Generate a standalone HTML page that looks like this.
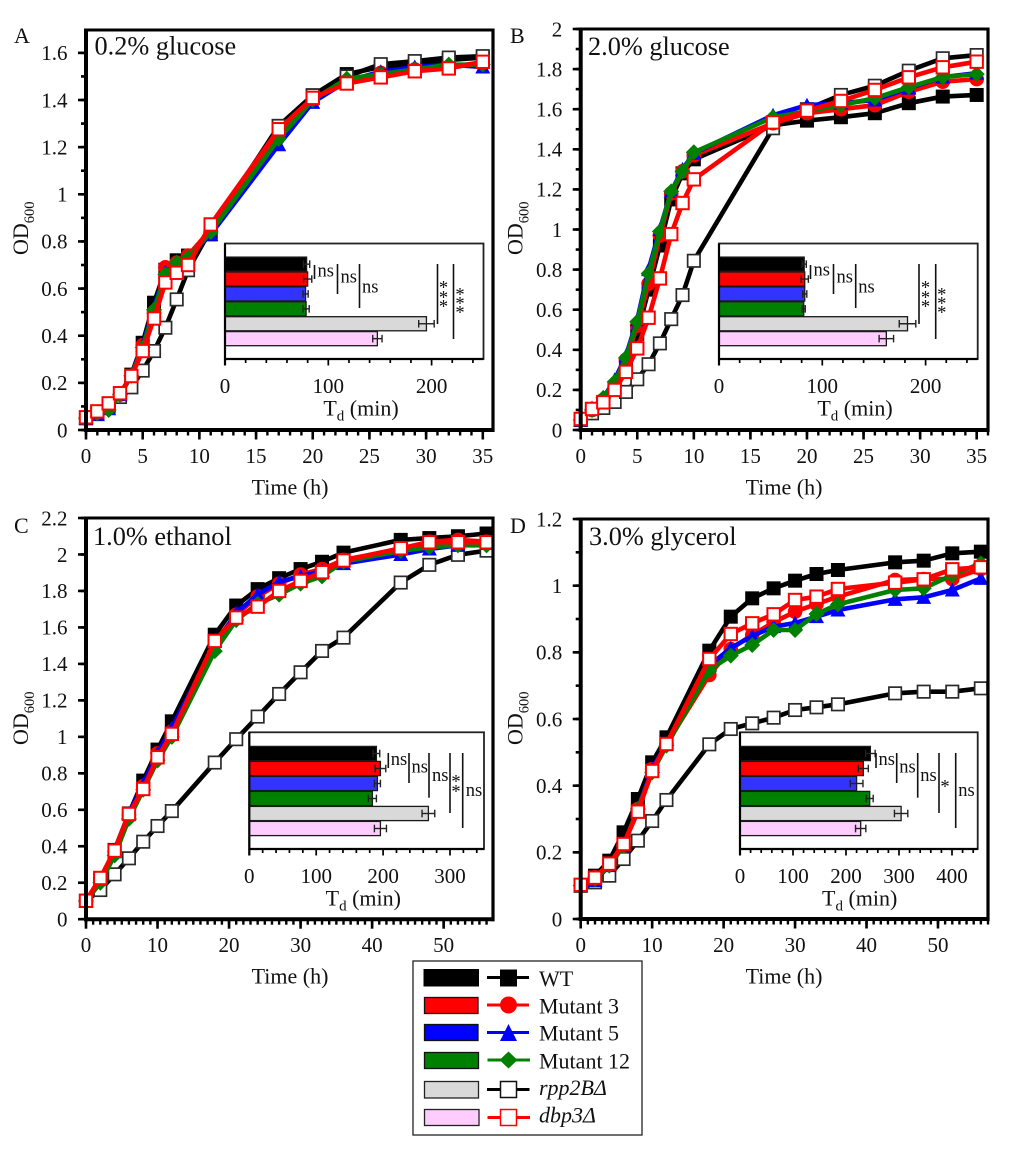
<!DOCTYPE html>
<html lang="en">
<head>
<meta charset="utf-8">
<title>Growth curves and doubling times</title>
<style>
html,body{margin:0;padding:0;background:#fff;}
svg{display:block;}
text{font-family:"Liberation Serif","DejaVu Serif",serif;fill:#111;}
</style>
</head>
<body>
<svg id="figure" xmlns="http://www.w3.org/2000/svg" width="1020" height="1165" viewBox="0 0 1020 1165">
<rect x="0" y="0" width="1020" height="1165" fill="#fff"/>
<g id="panels"></g>
<g>
  <rect x="413" y="961" width="229" height="174" fill="#fff" stroke="#222" stroke-width="1.3"/>
  <g>
    <rect x="424" y="969.5" width="54.5" height="16.5" fill="#000" stroke="#000" stroke-width="1"/>
    <line x1="487" y1="977.5" x2="529" y2="977.5" stroke="#000" stroke-width="3"/>
    <rect x="500" y="969.5" width="17" height="17" fill="#000"/>
    <text x="539" y="986" font-size="22">WT</text>
  </g>
  <g>
    <rect x="424.5" y="997.5" width="53.5" height="16" fill="#f00" stroke="#111" stroke-width="1.3"/>
    <line x1="487" y1="1005" x2="529" y2="1005" stroke="#f00" stroke-width="3"/>
    <circle cx="508.5" cy="1005" r="8.5" fill="#f00"/>
    <text x="539" y="1013.5" font-size="22">Mutant 3</text>
  </g>
  <g>
    <rect x="424.5" y="1024.5" width="53.5" height="16" fill="#00f" stroke="#111" stroke-width="1.3"/>
    <line x1="487" y1="1032.5" x2="529" y2="1032.5" stroke="#00f" stroke-width="3"/>
    <polygon points="508.5,1024 517,1041 500,1041" fill="#00f"/>
    <text x="539" y="1040.7" font-size="22">Mutant 5</text>
  </g>
  <g>
    <rect x="424.5" y="1052.5" width="54" height="16" fill="#008000" stroke="#111" stroke-width="1.3"/>
    <line x1="487.5" y1="1060" x2="530" y2="1060" stroke="#008000" stroke-width="3"/>
    <polygon points="508.5,1051.5 517.5,1060 508.5,1068.5 499.5,1060" fill="#008000"/>
    <text x="539" y="1068.3" font-size="22">Mutant 12</text>
  </g>
  <g>
    <rect x="424.5" y="1081.5" width="54" height="16.5" fill="#d9d9d9" stroke="#222" stroke-width="1.3"/>
    <line x1="487" y1="1089.5" x2="529.5" y2="1089.5" stroke="#000" stroke-width="3"/>
    <rect x="500.5" y="1081.5" width="16" height="16" fill="#fff" stroke="#111" stroke-width="1.5"/>
    <text x="539" y="1095" font-size="22" font-style="italic">rpp2BΔ</text>
  </g>
  <g>
    <rect x="424.5" y="1109.5" width="54.5" height="16" fill="#ffccff" stroke="#222" stroke-width="1.3"/>
    <line x1="487.5" y1="1117.5" x2="530" y2="1117.5" stroke="#f00" stroke-width="3"/>
    <rect x="500.5" y="1109.5" width="16" height="16" fill="#fff" stroke="#f00" stroke-width="1.5"/>
    <text x="539" y="1122.3" font-size="22" font-style="italic">dbp3Δ</text>
  </g>
</g>
</svg>
<script>
/* ---------- Panel A: 0.2% glucose ---------- */
var timesA = [0,1,2,3,4,5,6,7,8,9,11,17,20,23,26,29,32,35];
var wtA     = [.05,.07,.105,.15,.235,.37,.54,.68,.72,.74,.83,1.29,1.42,1.51,1.54,1.55,1.57,1.58];
var m3A     = [.05,.07,.10,.15,.23,.36,.50,.69,.71,.74,.85,1.26,1.395,1.48,1.515,1.53,1.54,1.56];
var m5A     = [.05,.065,.09,.15,.23,.36,.52,.67,.70,.73,.83,1.21,1.39,1.48,1.52,1.54,1.55,1.54];
var m12A    = [.05,.07,.085,.15,.23,.35,.51,.66,.71,.73,.84,1.235,1.40,1.49,1.51,1.53,1.55,1.55];
var rppA    = [.05,.07,.10,.14,.181,.252,.335,.434,.554,.678,.85,1.29,1.42,1.50,1.552,1.565,1.58,1.586];
var dbpA    = [.054,.079,.113,.156,.229,.335,.473,.626,.667,.70,.872,1.276,1.409,1.47,1.496,1.522,1.534,1.562];
var yTicksA = [0,0.2,0.4,0.6,0.8,1,1.2,1.4,1.6];
var xTicksA = [0,5,10,15,20,25,30,35];
var tdA     = [79,80,78,78.5,195,147.5];
var tdErrA  = [3,4,2.5,3,7.5,4.5];
var insetTicksA = [0,100,200];

/* ---------- Panel B: 2.0% glucose ---------- */
var timesB = [0,1,2,3,4,5,6,7,8,9,10,17,20,23,26,29,32,35];
var wtB     = [.05,.09,.14,.21,.33,.48,.70,.92,1.15,1.28,1.35,1.52,1.543,1.56,1.58,1.63,1.663,1.671];
var m3B     = [.05,.10,.15,.22,.35,.52,.73,.97,1.18,1.29,1.37,1.53,1.58,1.60,1.62,1.687,1.737,1.75];
var m5B     = [.05,.11,.16,.25,.37,.55,.80,1.0,1.19,1.30,1.38,1.57,1.62,1.63,1.646,1.705,1.76,1.78];
var m12B    = [.05,.10,.16,.24,.36,.54,.78,.99,1.19,1.29,1.385,1.56,1.59,1.62,1.655,1.71,1.76,1.775];
var rppB    = [.05,.083,.11,.14,.19,.253,.328,.432,.553,.673,.844,1.505,1.60,1.671,1.717,1.792,1.854,1.87];
var dbpB    = [.055,.105,.138,.20,.29,.407,.56,.756,.977,1.132,1.25,1.534,1.593,1.641,1.696,1.759,1.809,1.837];
var yTicksB = [0,0.2,0.4,0.6,0.8,1,1.2,1.4,1.6,1.8,2];
var xTicksB = [0,5,10,15,20,25,30,35];
var tdB     = [82.5,83,83,82,182.5,162];
var tdErrB  = [2,3.5,2,1.5,8,7];
var insetTicksB = [0,100,200];

/* ---------- Panel C: 1.0% ethanol ---------- */
var timesC = [0,2,4,6,8,10,12,18,21,24,27,30,33,36,44,48,52,56];
var wtC     = [.10,.22,.38,.58,.76,.93,1.085,1.56,1.72,1.81,1.87,1.92,1.96,2.01,2.08,2.09,2.10,2.115];
var m3C     = [.10,.22,.37,.57,.73,.91,1.03,1.52,1.67,1.77,1.84,1.89,1.92,1.97,2.03,2.07,2.08,2.07];
var m5C     = [.10,.22,.37,.58,.74,.91,1.05,1.50,1.68,1.78,1.85,1.88,1.91,1.95,2.0,2.03,2.05,2.06];
var m12C    = [.10,.20,.35,.55,.71,.87,1.0,1.47,1.64,1.73,1.78,1.84,1.88,1.96,2.02,2.04,2.05,2.05];
var rppC    = [.10,.16,.246,.334,.425,.511,.593,.859,.987,1.111,1.235,1.354,1.471,1.544,1.846,1.943,1.998,2.021];
var dbpC    = [.101,.226,.376,.577,.714,.888,1.016,1.526,1.654,1.714,1.80,1.855,1.903,1.967,2.034,2.067,2.067,2.067];
var yTicksC = [0,0.2,0.4,0.6,0.8,1,1.2,1.4,1.6,1.8,2,2.2];
var xTicksC = [0,10,20,30,40,50];
var tdC     = [190,196,191.5,184,267.7,196];
var tdErrC  = [5,8,4.5,6,9.5,9];
var insetTicksC = [0,100,200,300];

/* ---------- Panel D: 3.0% glycerol ---------- */
var timesD = [0,2,4,6,8,10,12,18,21,24,27,30,33,36,44,48,52,56];
var wtD     = [.10,.13,.175,.26,.36,.47,.545,.805,.907,.962,.992,1.015,1.035,1.047,1.07,1.075,1.097,1.102];
var m3D     = [.10,.125,.165,.22,.33,.45,.525,.732,.81,.852,.89,.922,.945,.967,1.017,1.02,1.02,1.05];
var m5D     = [.10,.115,.16,.22,.33,.45,.525,.76,.813,.849,.877,.888,.907,.927,.959,.965,.987,1.022];
var m12D    = [.10,.12,.16,.22,.33,.44,.52,.747,.79,.822,.867,.867,.915,.944,.987,.992,1.032,1.067];
var rppD    = [.10,.11,.13,.18,.235,.294,.357,.524,.57,.587,.604,.627,.635,.644,.677,.682,.682,.692];
var dbpD    = [.1025,.124,.166,.225,.322,.444,.525,.78,.855,.887,.914,.957,.967,.99,1.009,1.019,1.049,1.055];
var yTicksD = [0,0.2,0.4,0.6,0.8,1,1.2];
var xTicksD = [0,10,20,30,40,50];
var tdD     = [246,232.7,220,244.7,304,227.7];
var tdErrD  = [9,9.4,12,6.6,12.6,9.7];
var insetTicksD = [0,100,200,300,400];

var strainNames = ['wt','mutant-3','mutant-5','mutant-12','rpp2b','dbp3'];

var SVGNS = 'http://www.w3.org/2000/svg';

function mk(parent, tag, attrs, name, txt) {
  var el = document.createElementNS(SVGNS, tag);
  for (var k in attrs) { el.setAttribute(k, attrs[k]); }
  
  
  if (txt !== undefined) { el.textContent = txt; }
  parent.appendChild(el);
  return el;
}

function drawMarker(g, kind, cx, cy) {
  if (kind === 'wt') {
    mk(g, 'rect', {x: cx-7, y: cy-7, width: 14, height: 14, fill: '#000'}, 'point-wt');
  } else if (kind === 'mutant-3') {
    mk(g, 'circle', {cx: cx, cy: cy, r: 7.3, fill: '#f00'}, 'point-mutant-3');
  } else if (kind === 'mutant-5') {
    mk(g, 'polygon', {points: cx+','+(cy-7.5)+' '+(cx+7.5)+','+(cy+6.5)+' '+(cx-7.5)+','+(cy+6.5), fill: '#00f'}, 'point-mutant-5');
  } else if (kind === 'mutant-12') {
    mk(g, 'polygon', {points: cx+','+(cy-8)+' '+(cx+8)+','+cy+' '+cx+','+(cy+8)+' '+(cx-8)+','+cy, fill: '#008000'}, 'point-mutant-12');
  } else if (kind === 'rpp2b') {
    mk(g, 'rect', {x: cx-6.2, y: cy-6.2, width: 12.4, height: 12.4, fill: '#fff', stroke: '#2a2a2a', 'stroke-width': 1.7}, 'point-rpp2b');
  } else {
    mk(g, 'rect', {x: cx-6.2, y: cy-6.2, width: 12.4, height: 12.4, fill: '#fff', stroke: '#f00', 'stroke-width': 2}, 'point-dbp3');
  }
}

function drawPanel(p) {
  var root = document.getElementById('panels');
  var g = mk(root, 'g', {}, 'panel-' + p.id);
  var X = function (t) { return p.L + t * (p.R - p.L) / p.xMax; };
  var Y = function (v) { return p.B - v * (p.B - p.T) / p.yMax; };
  var i, j;

  mk(g, 'text', {x: p.letterX, y: p.letterY, 'font-size': 22}, 'panel-letter', p.letter);

  /* axis ticks */
  var axes = mk(g, 'g', {stroke: '#000'}, 'axis-ticks');
  for (i = 0; i * p.yMinor <= p.yMax + 1e-9; i++) {
    mk(axes, 'line', {x1: p.L-5, x2: p.L, y1: Y(i*p.yMinor), y2: Y(i*p.yMinor), 'stroke-width': 2.6}, 'y-minor-tick');
  }
  for (i = 0; i <= p.xMax; i++) {
    mk(axes, 'line', {x1: X(i), x2: X(i), y1: p.B, y2: p.B+5.5, 'stroke-width': 2.4}, 'x-minor-tick');
  }
  p.yTicks.forEach(function (v) {
    mk(axes, 'line', {x1: p.L-8, x2: p.L, y1: Y(v), y2: Y(v), 'stroke-width': 2.6}, 'y-major-tick');
    mk(g, 'text', {x: p.L-18.5, y: Y(v)+7.3, 'font-size': 21, 'text-anchor': 'end'}, 'y-tick-label', String(v));
  });
  p.xTicks.forEach(function (v) {
    mk(axes, 'line', {x1: X(v), x2: X(v), y1: p.B, y2: p.B+9.5, 'stroke-width': 2.6}, 'x-major-tick');
    mk(g, 'text', {x: X(v), y: p.B+33, 'font-size': 21, 'text-anchor': 'middle'}, 'x-tick-label', String(v));
  });

  /* axis titles */
  var yt = mk(g, 'text', {transform: 'translate(' + (p.L-58) + ',' + p.yTitleY + ') rotate(-90)', 'font-size': 22}, 'y-axis-title', 'OD');
  mk(yt, 'tspan', {dy: 6, 'font-size': 14.5}, 'y-axis-subscript', '600');
  mk(g, 'text', {x: p.xTitleX, y: p.B+64.5, 'font-size': 22, 'text-anchor': 'middle'}, 'x-axis-title', 'Time (h)');

  /* series */
  var order = [
    ['wt', p.wt, '#000'],
    ['rpp2b', p.rpp, '#000'],
    ['mutant-3', p.m3, '#f00'],
    ['mutant-5', p.m5, '#00f'],
    ['mutant-12', p.m12, '#008000'],
    ['dbp3', p.dbp, '#f00']
  ];
  order.forEach(function (s) {
    var sg = mk(g, 'g', {}, 'series-' + s[0]);
    var pts = s[1].map(function (v, idx) { return X(p.times[idx]) + ',' + Y(v); }).join(' ');
    mk(sg, 'polyline', {points: pts, fill: 'none', stroke: s[2], 'stroke-width': 4.6, 'stroke-linejoin': 'round'}, 'line-' + s[0]);
    s[1].forEach(function (v, idx) { drawMarker(sg, s[0], X(p.times[idx]), Y(v)); });
  });

  /* frame */
  mk(g, 'line', {x1: p.L, x2: p.L, y1: p.T-1.5, y2: p.B+2, stroke: '#000', 'stroke-width': 4}, 'y-axis-line');
  mk(g, 'line', {x1: p.L-2, x2: p.R+1.5, y1: p.B, y2: p.B, stroke: '#000', 'stroke-width': 4}, 'x-axis-line');
  mk(g, 'line', {x1: p.L-2, x2: p.R+1.5, y1: p.T, y2: p.T, stroke: '#000', 'stroke-width': 3}, 'frame-top');
  mk(g, 'line', {x1: p.R, x2: p.R, y1: p.T-1.5, y2: p.B+2, stroke: '#000', 'stroke-width': 3.2}, 'frame-right');
  mk(g, 'text', {x: p.titleX, y: p.titleY, 'font-size': 26.3}, 'panel-title', p.title);

  /* inset */
  var ins = mk(g, 'g', {}, 'doubling-time-inset');
  var IX = function (v) { return p.iL + v * p.iScale; };
  mk(ins, 'rect', {x: p.iL, y: p.iT, width: p.iR-p.iL, height: p.iB-p.iT, fill: '#fff', stroke: '#222', 'stroke-width': 1.8}, 'inset-frame');
  var fills = ['#000','#f00','#3333ff','#008000','#d9d9d9','#ffccff'];
  p.td.forEach(function (v, idx) {
    var top = p.barTop + idx * p.band;
    mk(ins, 'rect', {x: p.iL, y: top+0.4, width: IX(v)-p.iL, height: p.band-0.8, fill: fills[idx], stroke: '#1a1a1a', 'stroke-width': 1.3}, 'td-bar-' + strainNames[idx]);
  });
  p.td.forEach(function (v, idx) {
    var cy = p.barTop + idx * p.band + p.band/2;
    var e = p.tdErr[idx];
    mk(ins, 'line', {x1: IX(v-e), x2: IX(v+e), y1: cy, y2: cy, stroke: '#222', 'stroke-width': 1.4}, 'error-bar');
    mk(ins, 'line', {x1: IX(v-e), x2: IX(v-e), y1: cy-3.8, y2: cy+3.8, stroke: '#222', 'stroke-width': 1.4}, 'error-cap');
    mk(ins, 'line', {x1: IX(v+e), x2: IX(v+e), y1: cy-3.8, y2: cy+3.8, stroke: '#222', 'stroke-width': 1.4}, 'error-cap');
  });
  mk(ins, 'line', {x1: p.iL, x2: p.iL, y1: p.iT, y2: p.iB+6.5, stroke: '#000', 'stroke-width': 2.2}, 'inset-y-axis');
  mk(ins, 'line', {x1: p.iL, x2: p.iR, y1: p.iB, y2: p.iB, stroke: '#000', 'stroke-width': 2.2}, 'inset-x-axis');
  for (i = 0; IX(i*20) <= p.iR - 3; i++) {
    mk(ins, 'line', {x1: IX(i*20), x2: IX(i*20), y1: p.iB, y2: p.iB + (i % 5 === 0 ? 6.5 : 4), stroke: '#000', 'stroke-width': 1.7}, 'inset-tick');
  }
  p.iTicks.forEach(function (v) {
    mk(ins, 'text', {x: IX(v), y: p.iB+34, 'font-size': 21, 'text-anchor': 'middle'}, 'inset-tick-label', String(v));
  });
  var it = mk(ins, 'text', {x: p.iTitleX, y: p.iB+56.7, 'font-size': 22, 'text-anchor': 'middle'}, 'inset-x-axis-title', 'T');
  mk(it, 'tspan', {dy: 5, 'font-size': 15}, 'inset-title-subscript', 'd');
  mk(it, 'tspan', {dy: -5}, 'inset-title-unit', ' (min)');

  /* significance annotations */
  p.sig.forEach(function (s) {
    var a = mk(ins, 'g', {}, 'significance-bracket');
    mk(a, 'line', {x1: s.x, x2: s.x, y1: s.y1, y2: s.y2, stroke: '#111', 'stroke-width': 1.6}, 'significance-line');
    if (s.label === 'ns') {
      mk(a, 'text', {x: s.x + s.dx, y: s.ly + 4.5, 'font-size': 18.5}, 'significance-label', 'ns');
    } else {
      for (j = 0; j < s.stars.length; j++) {
        mk(a, 'text', {x: s.x + s.dx, y: s.stars[j] + 8.6, 'font-size': 18.5, 'text-anchor': 'middle'}, 'significance-star', '*');
      }
    }
  });
}

drawPanel({
  id: 'a', letter: 'A', title: '0.2% glucose', letterX: 14, letterY: 43, titleX: 94.5, titleY: 54.5,
  L: 86, R: 493, T: 30, B: 430, xMax: 35.9, yMax: 1.697, yMinor: 0.1,
  yTitleY: 255, xTitleX: 290,
  times: timesA, wt: wtA, m3: m3A, m5: m5A, m12: m12A, rpp: rppA, dbp: dbpA,
  yTicks: yTicksA, xTicks: xTicksA,
  iL: 225, iR: 483.5, iT: 243.5, iB: 359, iScale: 1.033, barTop: 256.7, band: 14.9,
  td: tdA, tdErr: tdErrA, iTicks: insetTicksA, iTitleX: 361,
  sig: [
    {x: 314.5, y1: 265, y2: 279, label: 'ns', dx: 3, ly: 272},
    {x: 337.5, y1: 264, y2: 294, label: 'ns', dx: 3, ly: 278},
    {x: 359.5, y1: 264, y2: 308, label: 'ns', dx: 2.5, ly: 288},
    {x: 437.5, y1: 264, y2: 324, label: '*', dx: 6, stars: [285, 295, 304]},
    {x: 453.5, y1: 264, y2: 339, label: '*', dx: 6.5, stars: [291.7, 300.7, 310]}
  ]
});

drawPanel({
  id: 'b', letter: 'B', title: '2.0% glucose', letterX: 510, letterY: 43, titleX: 588, titleY: 55,
  L: 580.7, R: 988, T: 29, B: 430, xMax: 36, yMax: 2, yMinor: 0.1,
  yTitleY: 255, xTitleX: 784,
  times: timesB, wt: wtB, m3: m3B, m5: m5B, m12: m12B, rpp: rppB, dbp: dbpB,
  yTicks: yTicksB, xTicks: xTicksB,
  iL: 719, iR: 977.7, iT: 243.5, iB: 359, iScale: 1.033, barTop: 256.7, band: 14.9,
  td: tdB, tdErr: tdErrB, iTicks: insetTicksB, iTitleX: 855,
  sig: [
    {x: 810.5, y1: 265, y2: 279, label: 'ns', dx: 3, ly: 271},
    {x: 833.5, y1: 264, y2: 294, label: 'ns', dx: 3, ly: 278},
    {x: 855.7, y1: 264, y2: 308, label: 'ns', dx: 2.5, ly: 288},
    {x: 919, y1: 264, y2: 324, label: '*', dx: 6.5, stars: [285, 295, 304]},
    {x: 935.7, y1: 264, y2: 339, label: '*', dx: 6, stars: [291.7, 300.7, 310]}
  ]
});

drawPanel({
  id: 'c', letter: 'C', title: '1.0% ethanol', letterX: 14, letterY: 533, titleX: 93, titleY: 545,
  L: 86, R: 493, T: 518, B: 919.2, xMax: 56.9, yMax: 2.2, yMinor: 0.2,
  yTitleY: 745, xTitleX: 290,
  times: timesC, wt: wtC, m3: m3C, m5: m5C, m12: m12C, rpp: rppC, dbp: dbpC,
  yTicks: yTicksC, xTicks: xTicksC,
  iL: 249.3, iR: 484, iT: 732.3, iB: 849, iScale: 0.669, barTop: 746, band: 15,
  td: tdC, tdErr: tdErrC, iTicks: insetTicksC, iTitleX: 363.3,
  sig: [
    {x: 388.3, y1: 753, y2: 768, label: 'ns', dx: 2.5, ly: 760.7},
    {x: 409, y1: 753, y2: 783, label: 'ns', dx: 2.5, ly: 768},
    {x: 429, y1: 753, y2: 797.7, label: 'ns', dx: 3, ly: 776.7},
    {x: 450, y1: 753, y2: 813, label: '*', dx: 6, stars: [779, 789]},
    {x: 462.7, y1: 753, y2: 828, label: 'ns', dx: 3, ly: 791.7}
  ]
});

drawPanel({
  id: 'd', letter: 'D', title: '3.0% glycerol', letterX: 510, letterY: 533, titleX: 589, titleY: 545,
  L: 580.7, R: 988, T: 519, B: 919, xMax: 57, yMax: 1.2, yMinor: 0.1,
  yTitleY: 745, xTitleX: 784,
  times: timesD, wt: wtD, m3: m3D, m5: m5D, m12: m12D, rpp: rppD, dbp: dbpD,
  yTicks: yTicksD, xTicks: xTicksD,
  iL: 740, iR: 977.7, iT: 732.3, iB: 849, iScale: 0.53, barTop: 746, band: 15,
  td: tdD, tdErr: tdErrD, iTicks: insetTicksD, iTitleX: 859.7,
  sig: [
    {x: 876, y1: 753, y2: 768, label: 'ns', dx: 2.5, ly: 760.7},
    {x: 896.7, y1: 753, y2: 783, label: 'ns', dx: 2.5, ly: 768},
    {x: 917.7, y1: 753, y2: 797.7, label: 'ns', dx: 2.5, ly: 776.7},
    {x: 939, y1: 753, y2: 813, label: '*', dx: 6, stars: [784]},
    {x: 955.7, y1: 753, y2: 828, label: 'ns', dx: 2.5, ly: 791.7}
  ]
});
</script>
</body>
</html>
